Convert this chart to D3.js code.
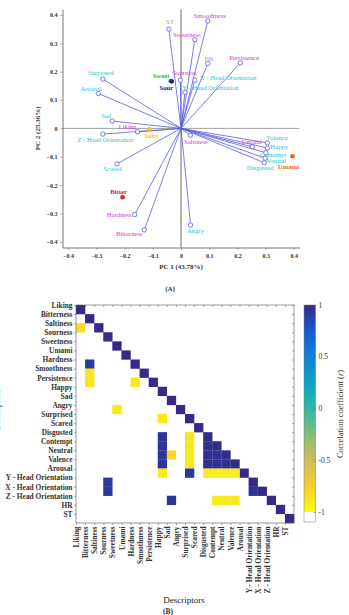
<!DOCTYPE html>
<html>
<head>
<meta charset="utf-8">
<script src="https://cdn.jsdelivr.net/npm/d3@7"></script>
<style>
  body { margin: 0; background: #fff; }
  text { font-family: "Liberation Serif", "Times New Roman", serif; }
</style>
</head>
<body>
<div id="chart"></div>
<script>
// ---- (A) PCA biplot ----
const descriptors = ["Liking", "Bitterness", "Saltiness", "Sourness", "Sweetness", "Umami",
  "Hardness", "Smoothness", "Persistence", "Happy", "Sad", "Angry", "Surprised", "Scared",
  "Disgusted", "Contempt", "Neutral", "Valence", "Arousal", "Y - Head Orientation",
  "X - Head Orientation", "Z - Head Orientation", "HR", "ST"];
const descGroup = ["sens", "sens", "sens", "sens", "sens", "sens", "sens", "sens", "sens",
  "emo", "emo", "emo", "emo", "emo", "emo", "emo", "emo", "emo", "emo", "emo", "emo", "emo",
  "phys", "phys"];
const pc1 = [-0.154, -0.130, 0.033, -0.002, 0.049, 0.253, -0.164, 0.095, 0.210, 0.306, -0.244,
  0.034, -0.277, -0.227, 0.295, 0.301, 0.298, 0.306, -0.293, 0.014, 0.049, -0.277, 0.095, -0.043];
const pc2 = [-0.012, -0.358, -0.024, 0.170, 0.313, -0.065, -0.304, 0.379, 0.231, -0.069, 0.026,
  -0.341, 0.174, -0.125, -0.121, -0.086, -0.105, -0.051, 0.123, 0.127, 0.170, -0.020, 0.229, 0.350];

const tastes = ["Sweet", "Sour", "Salty", "Bitter", "Umami"];
const tastePc1 = [-0.037, -0.033, -0.113, -0.207, 0.395];
const tastePc2 = [0.167, 0.166, -0.003, -0.243, -0.098];

const pcTicks = [-0.4, -0.3, -0.2, -0.1, 0, 0.1, 0.2, 0.3, 0.4];

// ---- (B) significant correlations (lower triangle) ----
const corrRows = ["Saltiness", "Hardness", "Smoothness", "Persistence", "Persistence", "Angry",
  "Surprised", "Disgusted", "Contempt", "Neutral", "Valence", "Arousal", "Neutral",
  "Z - Head Orientation", "Disgusted", "Contempt", "Neutral", "Valence", "Arousal",
  "Contempt", "Neutral", "Neutral", "Valence", "Valence", "Valence",
  "Arousal", "Arousal", "Arousal", "Arousal", "X - Head Orientation",
  "Y - Head Orientation", "X - Head Orientation", "Z - Head Orientation",
  "Z - Head Orientation", "Z - Head Orientation"];
const corrCols = ["Liking", "Bitterness", "Bitterness", "Bitterness", "Hardness", "Sweetness",
  "Happy", "Happy", "Happy", "Happy", "Happy", "Happy", "Sad",
  "Sad", "Surprised", "Surprised", "Surprised", "Surprised", "Surprised",
  "Disgusted", "Disgusted", "Contempt", "Disgusted", "Contempt", "Neutral",
  "Disgusted", "Contempt", "Neutral", "Valence", "Y - Head Orientation",
  "Sourness", "Sourness", "Contempt", "Neutral", "Valence"];
const corrValues = [-0.85, 0.92, -0.88, -0.88, -0.9, -0.9,
  -0.9, 0.95, 0.95, 0.95, 0.95, -0.92, -0.82,
  0.95, -0.9, -0.9, -0.9, -0.9, 0.93,
  0.97, 0.97, 0.97, 0.97, 0.97, 0.97,
  -0.92, -0.92, -0.92, -0.92, 0.95,
  0.93, 0.93, -0.9, -0.9, -0.9];
const cbTicks = [-1, -0.5, 0, 0.5, 1];

const W = 349, H = 615;
const svg = d3.select("#chart").append("svg")
  .attr("width", W).attr("height", H)
  .style("display", "block");

svg.append("rect").attr("width", W).attr("height", H).attr("fill", "#fff");

// ================= (A) =================
const groupColor = { sens: "#cc3fcc", emo: "#2ec2cc", phys: "#a6a6a6" };
const tasteColor = ["#22c422", "#1c1c9a", "#e8c41c", "#e41c1c", "#ea6420"];

const x = d3.scaleLinear().domain([-0.42, 0.42]).range([62.5, 299.5]);
const y = d3.scaleLinear().domain([-0.42, 0.42]).range([247.5, 9.3]);

const gA = svg.append("g");

// zero lines
gA.append("line")
  .attr("x1", x(-0.42)).attr("x2", x(0.42))
  .attr("y1", y(0)).attr("y2", y(0))
  .attr("stroke", "#8a8a8a").attr("stroke-width", 0.8);
gA.append("line")
  .attr("x1", x(0)).attr("x2", x(0))
  .attr("y1", y(-0.42)).attr("y2", y(0.42))
  .attr("stroke", "#444").attr("stroke-width", 0.8);

const xAxis = gA.append("g")
  .attr("transform", `translate(0,${y(-0.42)})`)
  .call(d3.axisBottom(x).tickValues(pcTicks).tickSize(2).tickSizeOuter(0)
    .tickFormat(d => d === 0 ? "0" : d3.format(".1f")(d)));
const yAxis = gA.append("g")
  .attr("transform", `translate(${x(-0.42)},0)`)
  .call(d3.axisLeft(y).tickValues(pcTicks).tickSize(2).tickSizeOuter(0)
    .tickFormat(d => d === 0 ? "0" : d3.format(".1f")(d)));
[xAxis, yAxis].forEach(a => {
  a.select(".domain").attr("stroke", "#555").attr("stroke-width", 0.8);
  a.selectAll(".tick line").attr("stroke", "#555").attr("stroke-width", 0.6);
  a.selectAll("text").attr("font-size", 6).attr("font-weight", "bold").attr("fill", "#333")
    .style("font-family", '"Liberation Serif", serif');
});
xAxis.selectAll("text").attr("dy", "0.9em");

gA.append("text")
  .attr("x", x(0)).attr("y", 269)
  .attr("text-anchor", "middle")
  .attr("font-size", 7).attr("font-weight", "bold").attr("fill", "#333")
  .text("PC 1 (43.78%)");
gA.append("text")
  .attr("transform", `translate(40,${y(0)}) rotate(-90)`)
  .attr("text-anchor", "middle")
  .attr("font-size", 7).attr("font-weight", "bold").attr("fill", "#333")
  .text("PC 2 (25.36%)");
gA.append("text")
  .attr("x", 170).attr("y", 290.5)
  .attr("text-anchor", "middle")
  .attr("font-size", 7).attr("font-weight", "bold").attr("fill", "#333")
  .text("(A)");

const vectors = descriptors.map((d, i) => ({ name: d, group: descGroup[i], x: pc1[i], y: pc2[i] }));

gA.selectAll(".vec")
  .data(vectors)
  .enter().append("line")
  .attr("class", "vec")
  .attr("x1", x(0)).attr("y1", y(0))
  .attr("x2", d => x(d.x)).attr("y2", d => y(d.y))
  .attr("stroke", "#5a5ae4").attr("stroke-width", 0.8);

gA.selectAll(".vecEnd")
  .data(vectors)
  .enter().append("circle")
  .attr("class", "vecEnd")
  .attr("cx", d => x(d.x)).attr("cy", d => y(d.y))
  .attr("r", 2.2)
  .attr("fill", "#fff")
  .attr("stroke", "#4646d2").attr("stroke-width", 0.7);

// label offsets in px: [dx, dy, anchor]
const labelOffset = {
  "Liking": [-10, -5, "middle"], "Bitterness": [-15, 3.7, "middle"],
  "Saltiness": [5.5, 6, "middle"], "Sourness": [4, -7.7, "middle"],
  "Sweetness": [-8, -5, "middle"], "Umami": [-0.6, -5, "middle"],
  "Hardness": [-3, 0, "end"], "Smoothness": [2, -5, "middle"],
  "Persistence": [4, -5, "middle"], "Happy": [3, -1.5, "start"],
  "Sad": [-6, -5, "middle"], "Angry": [5, 6, "middle"],
  "Surprised": [-2, -6, "middle"], "Scared": [-4.5, 5, "middle"],
  "Disgusted": [-4, 5, "middle"], "Contempt": [7, 2.3, "middle"],
  "Neutral": [11, 2.7, "middle"], "Valence": [9.7, -5.4, "middle"],
  "Arousal": [-7, -5, "middle"], "Y - Head Orientation": [-2.7, -5, "start"],
  "X - Head Orientation": [5, -2.3, "start"], "Z - Head Orientation": [2.5, 5.5, "middle"],
  "HR": [1, -4.5, "middle"], "ST": [1, -7, "middle"]
};

gA.selectAll(".vecLabel")
  .data(vectors)
  .enter().append("text")
  .attr("class", "vecLabel")
  .attr("x", d => x(d.x) + labelOffset[d.name][0])
  .attr("y", d => y(d.y) + labelOffset[d.name][1])
  .attr("dy", "0.35em")
  .attr("text-anchor", d => labelOffset[d.name][2])
  .attr("font-size", 6.7)
  .attr("fill", d => groupColor[d.group])
  .text(d => d.name);

const tastePts = tastes.map((t, i) => ({ name: t, x: tastePc1[i], y: tastePc2[i], color: tasteColor[i] }));
const tasteOffset = {
  "Sweet": [-9.5, -5.3], "Sour": [-5.3, 6], "Salty": [2.5, 6.5],
  "Bitter": [-4, -5.6], "Umami": [-4, 10]
};

gA.selectAll(".taste")
  .data(tastePts)
  .enter().append("circle")
  .attr("class", "taste")
  .attr("cx", d => x(d.x)).attr("cy", d => y(d.y))
  .attr("r", 2.3)
  .attr("fill", d => d.color);

gA.selectAll(".tasteLabel")
  .data(tastePts)
  .enter().append("text")
  .attr("class", "tasteLabel")
  .attr("x", d => x(d.x) + tasteOffset[d.name][0])
  .attr("y", d => y(d.y) + tasteOffset[d.name][1])
  .attr("dy", "0.35em")
  .attr("text-anchor", "middle")
  .attr("font-size", 6.7).attr("font-weight", "bold")
  .attr("fill", d => d.color)
  .text(d => d.name);

// ================= (B) =================
const hx0 = 76, hx1 = 294, hy0 = 305, hy1 = 523;
const cell = (hx1 - hx0) / descriptors.length;

const colX = d3.scaleBand().domain(descriptors).range([hx0, hx1]);
const rowY = d3.scaleBand().domain(descriptors).range([hy0, hy1]);
// labels sit on cell edges
const tickX = d3.scalePoint().domain(descriptors).range([hx0, hx1 - cell]);
const tickY = d3.scalePoint().domain(descriptors).range([hy0, hy1 - cell]);

const parula = ["#352a87", "#0f5cdd", "#1481d6", "#06a4ca", "#2eb7a4",
  "#87bf77", "#d1bb59", "#fec832", "#f9fb0e"];
const color = d3.scaleSequential(d3.interpolateRgbBasis(parula)).domain([1, -1]);

const cells = descriptors.map(d => ({ row: d, col: d, r: 1 }))
  .concat(corrRows.map((r, i) => ({ row: r, col: corrCols[i], r: corrValues[i] })));

const gB = svg.append("g");

gB.selectAll(".cell")
  .data(cells)
  .enter().append("rect")
  .attr("class", "cell")
  .attr("x", d => colX(d.col))
  .attr("y", d => rowY(d.row))
  .attr("width", colX.bandwidth() + 0.2)
  .attr("height", rowY.bandwidth() + 0.2)
  .attr("fill", d => color(d.r));

gB.append("rect")
  .attr("x", hx0).attr("y", hy0)
  .attr("width", hx1 - hx0).attr("height", hy1 - hy0)
  .attr("fill", "none").attr("stroke", "#555").attr("stroke-width", 0.6);

const leftAx = gB.append("g")
  .attr("transform", `translate(${hx0},0)`)
  .call(d3.axisLeft(tickY).tickSize(2).tickSizeOuter(0));
const bottomAx = gB.append("g")
  .attr("transform", `translate(0,${hy1})`)
  .call(d3.axisBottom(tickX).tickSize(2).tickSizeOuter(0));
const topAx = gB.append("g")
  .attr("transform", `translate(0,${hy0})`)
  .call(d3.axisBottom(tickX).tickSize(2).tickSizeOuter(0).tickFormat(""));
const rightAx = gB.append("g")
  .attr("transform", `translate(${hx1},0)`)
  .call(d3.axisLeft(tickY).tickSize(2).tickSizeOuter(0).tickFormat(""));
[leftAx, bottomAx, topAx, rightAx].forEach(a => {
  a.select(".domain").remove();
  a.selectAll(".tick line").attr("stroke", "#555").attr("stroke-width", 0.5);
  a.selectAll("text").attr("font-size", 7.4).attr("font-weight", "bold").attr("fill", "#333")
    .style("font-family", '"Liberation Serif", serif');
});
leftAx.selectAll("text").attr("x", -3.5);
bottomAx.selectAll("text")
  .attr("transform", "rotate(-90)")
  .attr("x", -3.5).attr("y", 0).attr("dy", "0.35em")
  .attr("text-anchor", "end");

gB.append("text")
  .attr("x", 184).attr("y", 603)
  .attr("text-anchor", "middle")
  .attr("font-size", 9).attr("fill", "#222")
  .text("Descriptors");
// y title sits mostly outside the left edge, as in the original crop
gB.append("text")
  .attr("transform", "translate(-0.5,410) rotate(-90)")
  .attr("text-anchor", "middle")
  .attr("font-size", 9).attr("fill", "#222")
  .text("Descriptors");
gB.append("text")
  .attr("x", 168).attr("y", 614)
  .attr("text-anchor", "middle")
  .attr("font-size", 7.5).attr("font-weight", "bold").attr("fill", "#333")
  .text("(B)");

// colour bar
const cbX = 304, cbW = 11.5;
const cb = d3.scaleLinear().domain([-1, 1]).range([512, 305]);
const grad = svg.append("defs").append("linearGradient")
  .attr("id", "cbGrad")
  .attr("gradientUnits", "userSpaceOnUse")
  .attr("x1", 0).attr("x2", 0)
  .attr("y1", cb(1)).attr("y2", cb(-1));
d3.range(0, 1.0001, 0.05).forEach(t => {
  grad.append("stop").attr("offset", t).attr("stop-color", color(1 - 2 * t));
});
gB.append("rect")
  .attr("x", cbX).attr("y", hy0)
  .attr("width", cbW).attr("height", cb(-1) - hy0)
  .attr("fill", "url(#cbGrad)");
gB.append("rect")
  .attr("x", cbX).attr("y", hy0)
  .attr("width", cbW).attr("height", hy1 - 1 - hy0)
  .attr("fill", "none").attr("stroke", "#777").attr("stroke-width", 0.5);

const cbAx = gB.append("g")
  .attr("transform", `translate(${cbX + cbW},0)`)
  .call(d3.axisLeft(cb).tickValues(cbTicks).tickSize(2).tickSizeOuter(0).tickFormat(""));
cbAx.select(".domain").remove();
cbAx.selectAll(".tick line").attr("stroke", "#555").attr("stroke-width", 0.5);

gB.selectAll(".cbLabel")
  .data(cbTicks)
  .enter().append("text")
  .attr("class", "cbLabel")
  .attr("x", cbX + cbW + 3)
  .attr("y", d => cb(d))
  .attr("dy", "0.35em")
  .attr("font-size", 7.5).attr("fill", "#333")
  .text(d => d);

const cbTitle = gB.append("text")
  .attr("transform", "translate(343,414) rotate(-90)")
  .attr("text-anchor", "middle")
  .attr("font-size", 8.5).attr("fill", "#333");
cbTitle.append("tspan").text("Correlation coefficient (");
cbTitle.append("tspan").attr("font-style", "italic").text("r");
cbTitle.append("tspan").text(")");
</script>
</body>
</html>
